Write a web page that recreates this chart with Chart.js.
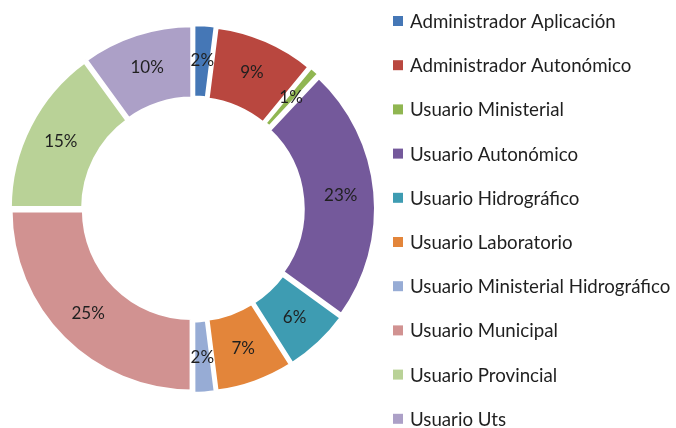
<!DOCTYPE html>
<html>
<head>
<meta charset="utf-8">
<script src="https://cdn.jsdelivr.net/npm/chart.js@4"></script>
<style>
  html, body { margin: 0; padding: 0; background: #fff; }
  #wrap { width: 676px; height: 428px; position: relative; }
</style>
</head>
<body>
<div id="wrap"><canvas id="rolesChart"></canvas></div>
<script>
const categorias = ['Administrador Aplicación', 'Administrador Autonómico', 'Usuario Ministerial', 'Usuario Autonómico', 'Usuario Hidrográfico', 'Usuario Laboratorio', 'Usuario Ministerial Hidrográfico', 'Usuario Municipal', 'Usuario Provincial', 'Usuario Uts'];
const porcentajes = [2, 9, 1, 23, 6, 7, 2, 25, 15, 10];
const colores = ['#4577B6', '#B9473F', '#90B651', '#74599B', '#3E9CB2', '#E3853A', '#97ACD5', '#D19291', '#B9D297', '#ACA0C7'];

// etiquetas de porcentaje dentro de cada sector
const etiquetasSectores = {
    id: 'etiquetasSectores',
    afterDatasetsDraw(chart) {
        const ctx = chart.ctx;
        const meta = chart.getDatasetMeta(0);
        ctx.save();
        ctx.font = '17px Lato';
        ctx.fillStyle = '#1f1f1f';
        ctx.textAlign = 'center';
        ctx.textBaseline = 'middle';
        meta.data.forEach((arc, i) => {
            const pos = arc.tooltipPosition();
            ctx.fillText(chart.data.datasets[0].data[i] + '%', pos.x, pos.y);
        });
        ctx.restore();
    }
};

// leyenda a la derecha, una fila por categoría
const leyendaDerecha = {
    id: 'leyendaDerecha',
    afterDraw(chart) {
        const ctx = chart.ctx;
        const x0 = 393;
        const y0 = 21;
        const paso = 44.2;
        ctx.save();
        ctx.font = '18.7px Lato';
        ctx.textBaseline = 'middle';
        chart.data.labels.forEach((lbl, i) => {
            const y = y0 + i * paso;
            ctx.fillStyle = colores[i];
            ctx.fillRect(x0, y - 5, 10, 10);
            ctx.fillStyle = '#1f1f1f';
            ctx.fillText(lbl, x0 + 17, y + 1);
        });
        ctx.restore();
    }
};

const canvas = document.getElementById('rolesChart');
new Chart(canvas.getContext('2d'), {
    type: 'doughnut',
    data: {
        labels: categorias,
        datasets: [{
            data: porcentajes,
            backgroundColor: colores,
            borderColor: '#ffffff',
            borderWidth: 4,
            offset: 8,
            radius: 181
        }]
    },
    options: {
        responsive: true,
        maintainAspectRatio: false,
        animation: false,
        cutout: '59.5%',
        layout: { padding: { left: 0, right: 290, top: 0, bottom: 10 } },
        plugins: {
            legend: { display: false },
            tooltip: { enabled: false }
        }
    },
    plugins: [etiquetasSectores, leyendaDerecha]
});
</script>
</body>
</html>
